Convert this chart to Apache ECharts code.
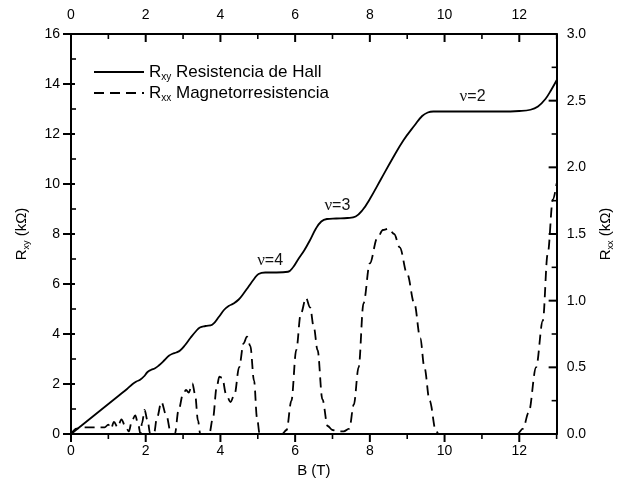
<!DOCTYPE html>
<html>
<head>
<meta charset="utf-8">
<script src="https://cdn.jsdelivr.net/npm/echarts@6/dist/echarts.min.js"></script>
<style>
  html, body { margin: 0; padding: 0; background: #fff; }
  #chart { width: 623px; height: 500px; }
</style>
</head>
<body>
<div id="chart"></div>
<script>
// Hall resistance R_xy (kOhm) against magnetic field B (T)
const hallB = [0, 0.1, 0.3, 0.6, 1.0, 1.3, 1.5, 1.65, 1.75, 1.85, 1.95, 2.05, 2.15, 2.25, 2.35, 2.5, 2.62, 2.72, 2.82, 2.92, 3.05, 3.2, 3.35, 3.45, 3.6, 3.78, 3.96, 4.1, 4.22, 4.35, 4.49, 4.62, 4.75, 4.9, 5.02, 5.2, 5.5, 5.81, 5.95, 6.07, 6.25, 6.4, 6.55, 6.7, 6.85, 7.1, 7.4, 7.62, 7.8, 8.0, 8.3, 8.6, 8.9, 9.2, 9.4, 9.55, 9.7, 10.0, 10.5, 11.0, 11.5, 12.0, 12.3, 12.5, 12.7, 12.85, 13.0];
const hallR = [0, 0.12, 0.36, 0.72, 1.2, 1.56, 1.8, 2.0, 2.1, 2.17, 2.3, 2.48, 2.57, 2.63, 2.74, 2.95, 3.13, 3.21, 3.26, 3.34, 3.55, 3.85, 4.12, 4.26, 4.32, 4.37, 4.69, 4.97, 5.12, 5.22, 5.38, 5.62, 5.89, 6.2, 6.4, 6.46, 6.46, 6.49, 6.68, 6.96, 7.36, 7.76, 8.2, 8.5, 8.6, 8.62, 8.64, 8.7, 8.95, 9.4, 10.2, 11.0, 11.75, 12.35, 12.72, 12.86, 12.9, 12.9, 12.9, 12.9, 12.9, 12.92, 12.97, 13.1, 13.4, 13.75, 14.15];

// Magnetoresistance R_xx (kOhm) against magnetic field B (T)
const rxxB = [0, 0.15, 0.3, 0.6, 0.9, 1.0, 1.07, 1.15, 1.25, 1.35, 1.45, 1.55, 1.63, 1.72, 1.8, 1.86, 1.9, 1.97, 2.05, 2.12, 2.22, 2.3, 2.42, 2.55, 2.68, 2.78, 2.88, 3.0, 3.08, 3.15, 3.25, 3.32, 3.4, 3.46, 3.7, 3.8, 3.9, 3.97, 4.05, 4.15, 4.27, 4.38, 4.5, 4.62, 4.71, 4.8, 4.9, 4.98, 5.05, 5.65, 5.77, 5.9, 6.03, 6.15, 6.29, 6.4, 6.5, 6.6, 6.73, 6.87, 7.0, 7.13, 7.3, 7.45, 7.57, 7.7, 7.83, 8.0, 8.2, 8.35, 8.5, 8.65, 8.8, 9.0, 9.19, 9.35, 9.46, 9.6, 9.77, 9.85, 11.95, 12.1, 12.25, 12.45, 12.63, 12.76, 12.9, 13.0];
const rxxR = [0, 0.04, 0.05, 0.05, 0.05, 0.07, 0.04, 0.09, 0.05, 0.11, 0.06, 0.02, 0.1, 0.14, 0.07, 0.0, 0.08, 0.18, 0.1, 0.0, 0.0, 0.12, 0.24, 0.14, 0.0, 0.0, 0.18, 0.3, 0.33, 0.31, 0.38, 0.3, 0.1, 0.0, 0.0, 0.12, 0.35, 0.43, 0.42, 0.3, 0.24, 0.3, 0.5, 0.68, 0.73, 0.66, 0.4, 0.12, 0.0, 0.0, 0.03, 0.25, 0.63, 0.9, 1.02, 0.95, 0.8, 0.63, 0.26, 0.06, 0.03, 0.02, 0.02, 0.04, 0.22, 0.5, 0.98, 1.28, 1.47, 1.53, 1.54, 1.5, 1.4, 1.2, 0.98, 0.72, 0.5, 0.25, 0.02, 0.0, 0.0, 0.04, 0.16, 0.5, 0.85, 1.35, 1.76, 1.88];

// Filling factor labels: text, B (T), R_xy (kOhm)
const nuLabels = ['4', '3', '2'];
const nuB = [5.33, 7.13, 10.75];
const nuR = [6.92, 9.12, 13.5];

// Tick positions (major ones carry labels)
const bTicks = [0, 1, 2, 3, 4, 5, 6, 7, 8, 9, 10, 11, 12, 13];
const bMajor = [0, 2, 4, 6, 8, 10, 12];
const rxyTicks = [0, 1, 2, 3, 4, 5, 6, 7, 8, 9, 10, 11, 12, 13, 14, 15, 16];
const rxyMajor = [0, 2, 4, 6, 8, 10, 12, 14, 16];
const rxxTicks = [0, 0.25, 0.5, 0.75, 1, 1.25, 1.5, 1.75, 2, 2.25, 2.5, 2.75, 3];
const rxxMajor = [0, 0.5, 1, 1.5, 2, 2.5, 3];

const legendNames = ['Rxy', 'Rxx'];
const legendTexts = ['Resistencia de Hall', 'Magnetorresistencia'];

const zip = (a, b) => a.map((v, i) => [v, b[i]]);

const FONT = 'Liberation Sans, Arial, sans-serif';
const INK = '#000';

function axisLine() {
  return { show: true, onZero: false, lineStyle: { color: INK, width: 2 } };
}
function subRich() {
  return {
    r: { fontSize: 15, fontFamily: FONT, color: INK, lineHeight: 18 },
    s: { fontSize: 9, fontFamily: FONT, color: INK, lineHeight: 18, padding: [9, 0, 0, 0] }
  };
}

const chart = echarts.init(document.getElementById('chart'));

const option = {
  animation: false,
  backgroundColor: '#fff',
  grid: { left: 71, right: 60, top: 34, bottom: 66, containLabel: false },
  legend: {
    orient: 'vertical', left: 88, top: 57, itemGap: 1,
    itemWidth: 50, itemHeight: 16,
    data: legendNames,
    itemStyle: { opacity: 0 },
    formatter: name => {
      const i = legendNames.indexOf(name);
      return '{r|R}{s|' + name.slice(1) + '}{t| ' + legendTexts[i] + '}';
    },
    textStyle: {
      color: INK, fontFamily: FONT,
      rich: {
        r: { fontSize: 17, fontFamily: FONT, color: INK, lineHeight: 20 },
        s: { fontSize: 10, fontFamily: FONT, color: INK, lineHeight: 20, padding: [10, 0, 0, 0] },
        t: { fontSize: 17, fontFamily: FONT, color: INK, lineHeight: 20 }
      }
    }
  },
  xAxis: [
    {
      type: 'value', position: 'bottom', min: 0, max: 13, interval: 2,
      axisLine: axisLine(), axisTick: { show: false }, splitLine: { show: false },
      axisLabel: { show: true, color: INK, fontFamily: FONT, fontSize: 14, margin: 10, showMaxLabel: false },
      name: 'B (T)', nameLocation: 'middle', nameGap: 29,
      nameTextStyle: { color: INK, fontFamily: FONT, fontSize: 15 }
    },
    {
      type: 'value', position: 'top', min: 0, max: 13, interval: 2,
      axisLine: axisLine(), axisTick: { show: false }, splitLine: { show: false },
      axisLabel: { show: true, color: INK, fontFamily: FONT, fontSize: 14, margin: 12, showMaxLabel: false }
    }
  ],
  yAxis: [
    {
      type: 'value', position: 'left', min: 0, max: 16, interval: 2,
      axisLine: axisLine(), axisTick: { show: false }, splitLine: { show: false },
      axisLabel: { color: INK, fontFamily: FONT, fontSize: 14, margin: 11 },
      name: '{r|R}{s|xy}{r| (kΩ)}', nameLocation: 'middle', nameGap: 40, nameRotate: 90,
      nameTextStyle: { color: INK, fontFamily: FONT, rich: subRich() }
    },
    {
      type: 'value', position: 'right', min: 0, max: 3, interval: 0.5,
      axisLine: axisLine(), axisTick: { show: false }, splitLine: { show: false },
      axisLabel: { color: INK, fontFamily: FONT, fontSize: 14, margin: 10, formatter: v => v.toFixed(1) },
      name: '{r|R}{s|xx}{r| (kΩ)}', nameLocation: 'middle', nameGap: 36, nameRotate: 90,
      nameTextStyle: { color: INK, fontFamily: FONT, rich: subRich() }
    }
  ],
  series: [
    {
      name: 'Rxy', type: 'line', xAxisIndex: 0, yAxisIndex: 0,
      data: zip(hallB, hallR),
      showSymbol: false, symbol: 'none', smooth: 0.4,
      lineStyle: { color: INK, width: 1.8, type: 'solid' },
      itemStyle: { color: INK },
      markPoint: {
        symbol: 'circle', symbolSize: 0, silent: true,
        label: {
          show: true, position: 'inside', color: '#111',
          formatter: p => '{g|ν}{n|=' + p.name + '}',
          rich: {
            g: { fontSize: 17, fontFamily: 'Liberation Serif, Times New Roman, serif', color: '#111' },
            n: { fontSize: 16, fontFamily: FONT, color: '#111' }
          }
        },
        data: nuLabels.map((t, i) => ({ name: t, coord: [nuB[i], nuR[i]] }))
      }
    },
    {
      name: 'Rxx', type: 'line', xAxisIndex: 0, yAxisIndex: 1,
      data: zip(rxxB, rxxR),
      showSymbol: false, symbol: 'none', smooth: 0.35, smoothMonotone: 'x',
      lineStyle: { color: INK, width: 1.8, type: [10, 6] },
      itemStyle: { color: INK }
    }
  ]
};

chart.setOption(option);

// Axis tick marks, placed through the axes' own scales:
// bottom ticks point out, top and right ticks point in, left majors cross the axis.
function drawTicks() {
  const px = (finder, v) => chart.convertToPixel(finder, v);
  const xB = { xAxisIndex: 0 };
  const yL = { yAxisIndex: 0 };
  const yR = { yAxisIndex: 1 };
  const left = px(xB, 0), right = px(xB, 13);
  const bottom = px(yL, 0), top = px(yL, 16);
  const els = [];
  const seg = (x1, y1, x2, y2, w) => els.push({
    type: 'line', silent: true, z: 100, zlevel: 0,
    shape: { x1: x1, y1: y1, x2: x2, y2: y2 },
    style: { stroke: INK, lineWidth: w, fill: null }
  });
  bTicks.forEach(b => {
    const x = px(xB, b);
    const major = bMajor.indexOf(b) >= 0;
    const len = major ? 8 : 5;
    const w = major ? 2 : 1.6;
    seg(x, bottom, x, bottom + len, w);
    seg(x, top, x, top + len, w);
  });
  rxyTicks.forEach(r => {
    const y = px(yL, r);
    const major = rxyMajor.indexOf(r) >= 0;
    if (major) seg(left - 8, y, left + 4, y, 2);
    else seg(left, y, left + 5, y, 1.6);
  });
  rxxTicks.forEach(r => {
    const y = px(yR, r);
    const major = rxxMajor.indexOf(r) >= 0;
    seg(right - (major ? 8 : 5), y, right, y, major ? 2 : 1.6);
  });
  chart.setOption({ graphic: { elements: els } });
}
drawTicks();
</script>
</body>
</html>
